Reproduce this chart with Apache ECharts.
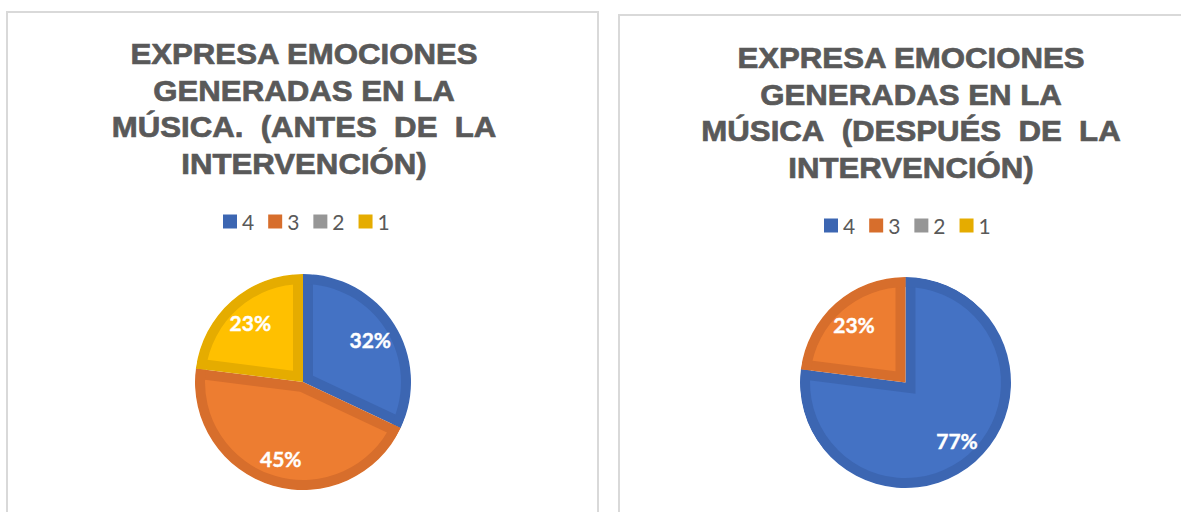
<!DOCTYPE html>
<html>
<head>
<meta charset="utf-8">
<script src="https://cdn.jsdelivr.net/npm/echarts@6/dist/echarts.min.js"></script>
<style>
  html, body { margin: 0; background: #fff; }
  #chart { width: 1181px; height: 512px; }
</style>
</head>
<body>
<div id="chart"></div>
<script>
// data (percent of students per score)
const categories = ['4', '3', '2', '1'];
const antesPct = [32, 45, 0, 23];
const despuesPct = [77, 23, 0, 0];
// \u00A0 keeps the wide gaps of the justified third line (svg collapses spaces)
const titleAntes = 'EXPRESA EMOCIONES\nGENERADAS EN LA\nMÚSICA.\u00A0 (ANTES\u00A0 DE\u00A0 LA\nINTERVENCIÓN)';
const titleDespues = 'EXPRESA EMOCIONES\nGENERADAS EN LA\nMÚSICA\u00A0 (DESPUÉS\u00A0 DE\u00A0 LA\nINTERVENCIÓN)';

const fillColors = ['#4472C4', '#ED7D31', '#A5A5A5', '#FFC000'];
const edgeColors = ['#3C66B2', '#D76E2C', '#969696', '#E5AC00'];
const BAND = 10;

function items(values, colorOf) {
  return values.map((v, i) => ({
    name: categories[i],
    value: v,
    itemStyle: { color: colorOf(i) }
  }));
}

// Excel draws every slice with a darker inner edge; emulate it with stacked pies:
// dark base, light slices nudged inward, dark outer ring, white mask, labels
function pieLayers(values, cx, cy, r) {
  const total = values.reduce((a, b) => a + b, 0);
  const layers = [];
  const base = { type: 'pie', silent: true, animation: false, center: [cx, cy], label: { show: false }, labelLine: { show: false } };

  layers.push({ ...base, radius: r, itemStyle: { borderWidth: 0 }, data: items(values, i => edgeColors[i]) });

  let start = 0;
  values.forEach((v, i) => {
    if (!v) return;
    const sweep = v / total * 2 * Math.PI;
    const mid = start + sweep / 2;
    start += sweep;
    const s = Math.sin(sweep / 2);
    const d = s > 0.05 ? BAND / s : 0;
    layers.push({
      ...base,
      center: [cx + d * Math.sin(mid), cy - d * Math.cos(mid)],
      radius: d ? r + 2 : r - BAND,
      itemStyle: { borderWidth: 0 },
      data: items(values, j => (j === i ? fillColors[j] : 'rgba(0,0,0,0)'))
    });
  });

  layers.push({ ...base, radius: [r - BAND, r], itemStyle: { borderWidth: 0 }, data: items(values, i => edgeColors[i]) });
  layers.push({ ...base, radius: [r, r + 26], itemStyle: { borderWidth: 0 }, data: items(values, () => '#ffffff') });
  layers.push({
    ...base,
    radius: [r * 0.42, r],
    itemStyle: { borderWidth: 0 },
    data: items(values, () => 'rgba(0,0,0,0)'),
    label: {
      show: true,
      position: 'inside',
      color: '#ffffff',
      fontFamily: 'Lato',
      fontWeight: 'bold',
      fontSize: 21,
      textBorderColor: '#ffffff',
      textBorderWidth: 0.4,
      formatter: p => (p.value ? p.value + '%' : '')
    }
  });
  return layers;
}

const legendBase = {
  data: categories,
  icon: 'rect',
  itemWidth: 14,
  itemHeight: 14,
  itemGap: 14,
  selectedMode: false,
  textStyle: { color: '#595959', fontFamily: 'Lato', fontSize: 21, padding: [5, 0, 0, 0] }
};

const titleStyle = {
  fontFamily: 'Liberation Sans',
  fontWeight: 'bold',
  fontSize: 30,
  fill: '#595959',
  stroke: '#595959',
  lineWidth: 0.7,
  textAlign: 'center',
  lineHeight: 36.5
};

const chart = echarts.init(document.getElementById('chart'), null, { renderer: 'svg' });
chart.setOption({
  animation: false,
  backgroundColor: '#ffffff',
  legend: [
    { ...legendBase, left: 218, top: 206 },
    { ...legendBase, left: 819, top: 210 }
  ],
  graphic: [
    { type: 'rect', silent: true, z: -10, shape: { x: 7, y: 12, width: 591, height: 520 }, style: { fill: 'none', stroke: '#d9d9d9', lineWidth: 2 } },
    { type: 'rect', silent: true, z: -10, shape: { x: 619, y: 15, width: 600, height: 520 }, style: { fill: 'none', stroke: '#d9d9d9', lineWidth: 2 } },
    { type: 'text', silent: true, x: 304, y: 35, scaleX: 1.04, style: { ...titleStyle, text: titleAntes } },
    { type: 'text', silent: true, x: 911, y: 39, scaleX: 1.04, style: { ...titleStyle, text: titleDespues } }
  ],
  series: [
    ...pieLayers(antesPct, 303, 382, 108),
    ...pieLayers(despuesPct, 905.5, 382.5, 105.5)
  ]
});
</script>
</body>
</html>
